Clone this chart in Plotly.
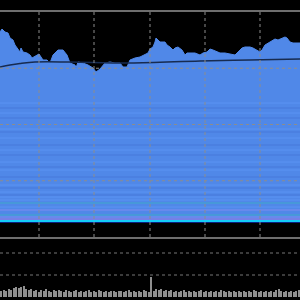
import plotly.graph_objects as go

# ---- data (heights, in axis units) ----
price_x = [0, 2, 5, 8, 10, 13, 15, 18, 20, 21, 23, 27, 30, 32, 35, 39, 43, 47, 50, 53,
           58, 63, 67, 70, 75, 76, 78, 83, 88, 93, 96, 100, 105, 110, 115, 120, 123, 127,
           130, 135, 140, 145, 148, 150, 153, 155, 156, 158, 160, 165, 167, 170, 173, 175,
           178, 182, 185, 187, 195, 200, 203, 207, 210, 213, 217, 220, 225, 230, 235, 238,
           242, 245, 250, 253, 257, 260, 262, 265, 270, 275, 278, 282, 285, 287, 290, 293,
           297, 300]
price = [205, 208, 205, 204, 199, 197, 192, 187, 185, 189, 185, 184, 182, 179, 181, 183,
         177, 177, 174, 182, 187, 187, 182, 174, 172, 169, 175, 174, 172, 169, 165, 168,
         174, 175, 174, 174, 170, 170, 177, 179, 180, 182, 184, 188, 190, 195, 199, 197,
         195, 195, 192, 190, 187, 189, 190, 187, 182, 184, 184, 182, 184, 185, 188, 187,
         185, 184, 184, 183, 182, 185, 189, 190, 190, 189, 187, 185, 187, 192, 195, 198,
         197, 199, 200, 199, 195, 194, 194, 194]

avg_x = [0, 10, 20, 35, 70, 130, 200, 250, 300]
avg_price = [170, 172, 173.5, 175, 175, 174, 176, 177, 178]

base_level = 14

band_levels = [134, 129, 124, 119, 108, 105, 99, 92, 87, 82, 75, 70, 67, 60, 52, 49,
               45, 42, 40, 37, 34, 30, 27, 22, 20, 18]
band_kinds = ["l", "d", "l", "d", "l", "d", "l", "d", "l", "d", "l", "d", "l", "d", "l", "d",
              "l", "d", "l", "l", "t", "l", "v", "t", "v", "p"]
cyan_level = 16
navy_level = 14.5

volume = [6, 7, 6, 8, 7, 9, 10, 9, 10, 11, 8, 7,
          8, 6, 7, 5, 7, 6, 8, 6, 5, 7, 6, 7,
          6, 5, 7, 6, 5, 6, 7, 5, 6, 5, 6, 7,
          5, 6, 5, 7, 6, 5, 6, 5, 6, 6, 5, 6,
          6, 5, 6, 7, 5, 6, 5, 6, 5, 7, 6, 5,
          20, 6, 8, 7, 8, 6, 7, 6, 7, 5, 6, 5,
          6, 7, 5, 6, 5, 6, 5, 6, 7, 5, 6, 5,
          6, 5, 6, 5, 7, 6, 5, 6, 5, 6, 5, 6,
          5, 6, 5, 6, 5, 7, 6, 5, 6, 5, 6, 5,
          6, 5, 7, 8, 6, 5, 6, 5, 6, 5, 6, 7]
volume_x = [1.25 + 2.5 * i for i in range(len(volume))]

time_ticks = [39, 94, 150, 205, 260]
price_grid = [56.25, 112.5, 168.75]
volume_grid = [22, 44]

# ---- styles ----
BLUE = "#5088e8"
band_colors = {"l": "#5b93f3", "d": "#4779da", "t": "#3fa9c9", "v": "#7f8cf0", "p": "#9a78e4"}
GRID = "#8c8c8c"

fig = go.Figure()

fig.add_trace(go.Scatter(x=[0, 300], y=[base_level, base_level], mode="lines",
                         line=dict(width=0, color=BLUE), hoverinfo="skip"))
fig.add_trace(go.Scatter(x=price_x, y=price, mode="lines", fill="tonexty",
                         fillcolor=BLUE, line=dict(width=1, color=BLUE)))
for lvl, k in zip(band_levels, band_kinds):
    fig.add_trace(go.Scatter(x=[0, 300], y=[lvl, lvl], mode="lines",
                             line=dict(width=1, color=band_colors[k]), hoverinfo="skip"))
fig.add_trace(go.Scatter(x=[0, 300], y=[cyan_level, cyan_level], mode="lines",
                         line=dict(width=1.6, color="#00e6ff")))
fig.add_trace(go.Scatter(x=[0, 300], y=[navy_level, navy_level], mode="lines",
                         line=dict(width=1.2, color="#0c2080")))
fig.add_trace(go.Scatter(x=avg_x, y=avg_price, mode="lines", line_shape="spline",
                         line=dict(width=1.5, color="#172b50")))

fig.add_trace(go.Bar(x=volume_x, y=volume, xaxis="x2", yaxis="y2",
                     marker=dict(color="#8f8f8f", line=dict(width=0)), width=1.1))

shapes = []
for t in time_ticks:
    shapes.append(dict(type="line", xref="x", yref="y domain", x0=t, x1=t, y0=0, y1=1,
                       line=dict(color=GRID, width=1, dash="dot"), layer="above"))
for g in price_grid:
    shapes.append(dict(type="line", xref="x domain", yref="y", x0=0, x1=1, y0=g, y1=g,
                       line=dict(color=GRID, width=1, dash="dot"), layer="above"))
for g in volume_grid:
    shapes.append(dict(type="line", xref="x2 domain", yref="y2", x0=0, x1=1, y0=g, y1=g,
                       line=dict(color="#777777", width=1.2, dash="dot"), layer="above"))

fig.update_layout(
    width=300, height=300,
    margin=dict(l=0, r=0, t=0, b=0),
    paper_bgcolor="black", plot_bgcolor="black",
    showlegend=False, bargap=0,
    xaxis=dict(domain=[0, 1], range=[0, 300], showgrid=False, zeroline=False,
               showticklabels=False, showline=True, linecolor="#6e6e6e", linewidth=1.5,
               mirror=True, anchor="y"),
    yaxis=dict(domain=[0.21, 0.96], range=[0, 225], showgrid=False, zeroline=False,
               showticklabels=False, showline=False),
    xaxis2=dict(domain=[0, 1], range=[0, 300], showgrid=False, zeroline=False,
                showticklabels=False, showline=False, anchor="y2"),
    yaxis2=dict(domain=[0.01, 0.2], range=[0, 57], showgrid=False, zeroline=False,
                showticklabels=False, showline=False),
    shapes=shapes,
)

fig.write_html("out.html")
